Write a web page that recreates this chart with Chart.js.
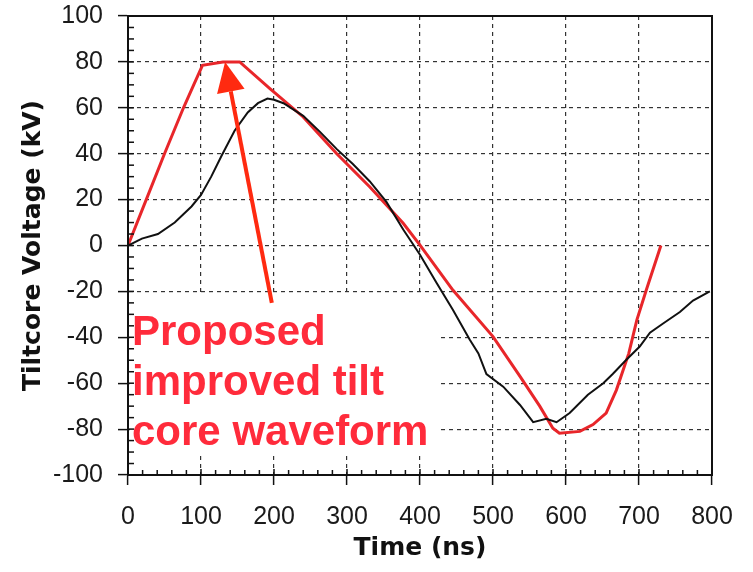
<!DOCTYPE html>
<html>
<head>
<meta charset="utf-8">
<script src="https://cdn.jsdelivr.net/npm/chart.js@4/dist/chart.umd.min.js"></script>
<style>
  html, body { margin: 0; padding: 0; background: #fff; }
  #wrap { width: 753px; height: 572px; }
</style>
</head>
<body>
<div id="wrap"><canvas id="tiltChart" width="753" height="572"></canvas></div>
<script>
// measured tilt core voltage (black trace)
const timeMeasured = [0, 19, 41, 64, 87, 100, 114, 128, 146, 164, 178, 191, 200, 213, 240, 263, 286, 308, 331, 354, 377, 400, 423, 445, 468, 480, 491, 514, 537, 555, 573, 587, 605, 630, 651, 664, 682, 701, 715, 733, 756, 774, 797];
const voltMeasured = [0, 3, 5, 10, 17, 22, 30, 39, 50, 58, 62, 64, 63.5, 62, 56.5, 49.5, 42, 35.5, 28, 19, 7, -4, -16.5, -28, -41, -47, -56, -61.5, -69.5, -77, -75.5, -77, -73, -65, -60, -56, -50, -44, -38, -34, -29, -24, -20];

// proposed waveform (red trace)
const timeProposed = [0, 25, 50, 76, 90, 102, 130, 153, 194, 240, 286, 331, 377, 400, 445, 500, 537, 564, 582, 591, 619, 637, 655, 669, 686, 697, 710, 730];
const voltProposed = [0, 20, 40, 60, 70, 78.5, 80, 80, 68.5, 56, 40, 25.6, 9.7, 0.2, -19.4, -39.7, -57, -70, -79.6, -81.8, -81, -78, -73, -63, -47, -32.5, -19.4, 0];

const xTicks = [0, 100, 200, 300, 400, 500, 600, 700, 800];
const yTicks = [-100, -80, -60, -40, -20, 0, 20, 40, 60, 80, 100];

const noteLines = ["Proposed", "improved tilt", "core waveform"];
const arrowFrom = { x: 197, y: -25 };
const arrowTo = { x: 133, y: 80 };

function toPoints(xs, ys) {
    return xs.map(function(x, i) { return { x: x, y: ys[i] }; });
}

// frame, minor ticks, note box + arrow
const extras = {
    id: 'extras',
    beforeDatasetsDraw(chart) {
        const ctx = chart.ctx;
        const xs = chart.scales.x, ys = chart.scales.y;
        // white box behind the note
        ctx.save();
        ctx.fillStyle = '#fff';
        const bx = xs.getPixelForValue(0) + 2;
        const by = ys.getPixelForValue(-22);
        ctx.fillRect(bx, by, xs.getPixelForValue(427) - bx, ys.getPixelForValue(-91.5) - by);
        ctx.restore();
    },
    afterDatasetsDraw(chart) {
        const ctx = chart.ctx;
        const a = chart.chartArea;
        const xs = chart.scales.x, ys = chart.scales.y;

        ctx.save();
        // frame
        ctx.strokeStyle = '#111';
        ctx.lineWidth = 2;
        ctx.strokeRect(a.left, a.top, a.right - a.left, a.bottom - a.top);

        // minor ticks on x (every 20 ns) and inner part of major ones
        ctx.lineWidth = 1.5;
        for (let t = 0; t <= 800; t += 20) {
            const px = xs.getPixelForValue(t);
            ctx.beginPath();
            ctx.moveTo(px, a.bottom);
            ctx.lineTo(px, a.bottom - (t % 100 === 0 ? 6 : 5));
            ctx.stroke();
        }
        // minor ticks on y (every 5 kV)
        for (let v = -100; v <= 100; v += 5) {
            const py = ys.getPixelForValue(v);
            ctx.beginPath();
            ctx.moveTo(a.left, py);
            ctx.lineTo(a.left + 6, py);
            ctx.stroke();
        }

        // note text
        ctx.fillStyle = '#ff2b3b';
        ctx.font = 'bold 42px "Liberation Sans", Arial, sans-serif';
        ctx.textBaseline = 'alphabetic';
        ctx.textAlign = 'left';
        const tx = a.left + 4;
        noteLines.forEach(function(line, i) {
            ctx.fillText(line, tx, 345 + i * 50);
        });

        // arrow pointing at the flat top
        const x0 = xs.getPixelForValue(arrowFrom.x), y0 = ys.getPixelForValue(arrowFrom.y);
        const x1 = xs.getPixelForValue(arrowTo.x), y1 = ys.getPixelForValue(arrowTo.y);
        const ang = Math.atan2(y1 - y0, x1 - x0);
        const headLen = 30, headHalf = 14;
        const bxp = x1 - headLen * Math.cos(ang), byp = y1 - headLen * Math.sin(ang);
        ctx.strokeStyle = '#ff2a10';
        ctx.fillStyle = '#ff2a10';
        ctx.lineWidth = 4;
        ctx.beginPath();
        ctx.moveTo(x0, y0);
        ctx.lineTo(bxp, byp);
        ctx.stroke();
        ctx.beginPath();
        ctx.moveTo(x1, y1);
        ctx.lineTo(bxp + headHalf * Math.sin(ang), byp - headHalf * Math.cos(ang));
        ctx.lineTo(bxp - headHalf * Math.sin(ang), byp + headHalf * Math.cos(ang));
        ctx.closePath();
        ctx.fill();
        ctx.restore();
    }
};

const tickFont = { family: '"Liberation Sans", Arial, sans-serif', size: 25 };
const titleFont = { family: '"DejaVu Sans", Verdana, sans-serif', size: 25, weight: 'bold' };

// pin the plot box: no extra label padding from the scales
function pinX(scale) {
    scale.height = 97;
    scale.paddingLeft = 0;
    scale.paddingRight = 0;
}
function pinY(scale) {
    scale.width = 128;
    scale.paddingTop = 0;
    scale.paddingBottom = 0;
}

new Chart(document.getElementById('tiltChart'), {
    type: 'line',
    data: {
        datasets: [{
            data: toPoints(timeMeasured, voltMeasured),
            borderColor: '#111',
            borderWidth: 2,
            pointRadius: 0,
            tension: 0
        }, {
            data: toPoints(timeProposed, voltProposed),
            borderColor: '#e8262a',
            borderWidth: 3,
            pointRadius: 0,
            tension: 0
        }]
    },
    options: {
        responsive: false,
        animation: false,
        devicePixelRatio: 1,
        layout: { padding: { left: 0, top: 16, right: 41, bottom: 0 } },
        plugins: { legend: { display: false }, tooltip: { enabled: false } },
        scales: {
            x: {
                type: 'linear',
                min: 0,
                max: 800,
                afterBuildTicks: function(scale) { scale.ticks = xTicks.map(function(v) { return { value: v }; }); },
                afterFit: pinX,
                ticks: { font: tickFont, color: '#1a1a1a', padding: 17, maxRotation: 0 },
                grid: { color: '#333', lineWidth: 1.2, tickLength: 10, tickColor: '#111', tickWidth: 1.5 },
                border: { display: true, color: '#111', width: 2, dash: [4, 4] },
                title: { display: true, text: 'Time (ns)', font: titleFont, color: '#111', padding: { top: 0, bottom: 9 } }
            },
            y: {
                min: -100,
                max: 100,
                afterBuildTicks: function(scale) { scale.ticks = yTicks.map(function(v) { return { value: v }; }); },
                afterFit: pinY,
                ticks: { font: tickFont, color: '#1a1a1a', padding: 15 },
                grid: { color: '#333', lineWidth: 1.2, tickLength: 10, tickColor: '#111', tickWidth: 1.5 },
                border: { display: true, color: '#111', width: 2, dash: [4, 4] },
                title: { display: true, text: 'Tiltcore Voltage (kV)', font: titleFont, color: '#111', padding: { top: 18, bottom: 0 } }
            }
        }
    },
    plugins: [extras]
});
</script>
</body>
</html>
